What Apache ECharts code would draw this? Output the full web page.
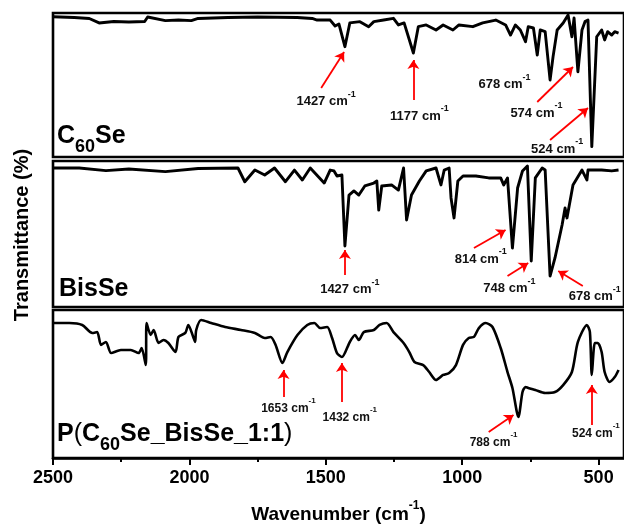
<!DOCTYPE html>
<html>
<head>
<meta charset="utf-8">
<title>FTIR</title>
<script src="https://cdn.jsdelivr.net/npm/echarts@6/dist/echarts.min.js"></script>
<style>html,body{margin:0;padding:0;background:#fff}#chart{width:624px;height:526px}</style>
</head>
<body>
<div id="chart"></div>
<script>
// wavenumbers (cm-1) and transmittance (%)
var waveC60Se = [2500,2422,2367,2331,2277,2222,2164,2153,2088,2040,1993,1968,1859,1750,1605,1550,1532,1484,1466,1452,1430,1412,1375,1343,1324,1288,1252,1234,1213,1179,1161,1132,1096,1070,1034,1012,961,925,877,841,823,805,787,768,758,739,725,714,696,678,667,652,630,612,598,590,576,561,550,539,525,507,489,478,467,452,441,427];
var transC60Se = [97.4,96.9,96.2,93.1,94.1,93.8,94.1,97.2,94.7,95.1,94.7,96.2,96.9,97.2,96.9,96.2,95.1,95.1,91.0,92.4,76.6,93.1,94.0,90.5,94.0,95.1,96.3,91.7,93.1,72.2,90.5,91.7,88.2,91.7,88.2,91.7,90.5,93.1,95.1,91.7,84.7,91.7,88.2,80.1,90.5,89.6,70.8,88.2,87.0,53.5,69.7,88.2,93.1,98.6,83.5,96.5,59.2,88.2,94.0,95.1,7.2,83.5,88.2,81.3,87.0,84.7,87.0,86.1];

var waveBisSe = [2500,2404,2306,2222,2088,1968,1822,1797,1760,1724,1688,1648,1615,1586,1557,1506,1484,1470,1459,1441,1430,1415,1397,1379,1357,1324,1313,1306,1295,1259,1234,1215,1204,1186,1157,1132,1096,1078,1066,1048,1041,1030,1016,997,950,903,859,848,834,816,797,779,761,747,732,707,696,678,660,634,623,616,594,561,543,539,489,452,427];
var transBisSe = [95.2,95.2,93.4,94.5,92.7,94.9,95.2,85.8,93.8,90.4,95.2,85.8,93.8,87.0,95.2,84.9,93.8,93.2,89.7,90.4,41.8,76.7,79.5,76.7,82.9,84.9,86.3,66.4,82.9,83.6,80.1,95.2,59.6,76.7,86.3,93.2,95.2,83.6,93.8,95.2,74.7,61.0,86.3,89.7,89.7,88.4,88.4,83.6,88.4,40.4,81.5,93.2,96.6,31.5,88.4,95.2,93.8,21.2,33.6,56.2,67.8,61.0,83.6,93.8,87.0,93.8,93.8,93.2,93.8];

var wavePoly = [2500,2440,2393,2356,2338,2324,2306,2287,2251,2215,2186,2175,2160,2157,2142,2131,2113,2095,2077,2051,2040,2015,2004,1986,1979,1975,1957,1920,1869,1811,1760,1724,1702,1684,1659,1641,1604,1568,1542,1521,1495,1477,1459,1441,1412,1393,1379,1361,1324,1303,1277,1252,1215,1194,1175,1143,1121,1096,1070,1048,1023,997,976,957,939,914,889,859,834,816,794,779,768,758,732,696,660,630,598,576,543,532,525,514,503,489,478,460,441,427];
var transPoly = [91.2,91.2,89.9,84.5,85.1,76.4,78.4,70.9,73.0,73.0,70.9,74.3,62.8,91.2,83.1,86.5,77.7,79.7,77.7,71.6,81.8,84.5,89.9,81.8,78.4,86.5,93.2,91.2,88.5,86.5,84.5,81.1,81.8,76.4,64.2,71.6,83.1,89.9,91.2,87.8,88.5,81.1,70.9,68.2,78.4,83.1,79.7,85.1,86.5,89.9,91.2,85.1,77.7,71.6,64.9,62.8,58.1,52.7,56.1,57.4,62.8,76.4,81.1,81.8,87.8,91.2,88.5,74.3,58.1,47.3,27.7,44.6,48.0,47.3,45.9,43.9,44.6,49.3,58.1,78.4,89.9,85.1,56.1,77.7,77.7,71.6,58.1,51.4,54.7,59.5];

// peak labels: text, label position [wave, T], arrow [fromWave, fromT, toWave, toT]
var peakTextC60Se = ['1427', '1177', '678', '574', '524'];
var peakPosC60Se = [[1499, 40.6], [1157, 30.2], [845, 52.4], [728, 32.3], [652, 7.3]];
var arrowsC60Se = [[1517, 47.9, 1433, 72.9], [1179, 39.6, 1179, 67.4], [725, 38.2, 594, 62.5], [678, 11.8, 539, 34.0]];

var peakTextBisSe = ['1427', '814', '748', '678'];
var peakPosBisSe = [[1412, 14.0], [932, 34.6], [827, 14.7], [514, 9.2]];
var arrowsBisSe = [[1430, 21.9, 1430, 39.0], [957, 40.4, 841, 52.7], [834, 21.2, 758, 30.1], [558, 14.4, 648, 24.7]];

var peakTextPoly = ['1653', '1432', '788', '524'];
var peakPosPoly = [[1637, 35.1], [1412, 29.1], [885, 12.2], [510, 18.2]];
var arrowsPoly = [[1655, 41.2, 1655, 59.5], [1441, 37.8, 1441, 64.2], [903, 17.6, 812, 29.1], [525, 22.3, 525, 49.3]];

var majorTicks = [2500, 2000, 1500, 1000, 500];
var minorTicks = [2250, 1750, 1250, 750];

var FONT = 'Arial, "Liberation Sans", sans-serif';
var xMin = 407, xMax = 2500;
var panelTop = [13, 161, 310];
var panelHeight = [144, 146, 148];

function zip(a, b) {
    return a.map(function (v, i) { return [v, b[i]]; });
}

var panels = [
    { wave: waveC60Se, trans: transC60Se, text: peakTextC60Se, pos: peakPosC60Se, arrows: arrowsC60Se, fs: 13, smooth: false },
    { wave: waveBisSe, trans: transBisSe, text: peakTextBisSe, pos: peakPosBisSe, arrows: arrowsBisSe, fs: 13, smooth: false },
    { wave: wavePoly, trans: transPoly, text: peakTextPoly, pos: peakPosPoly, arrows: arrowsPoly, fs: 12, smooth: 0.25 }
];

var grids = [], xAxes = [], yAxes = [], series = [];
panels.forEach(function (p, i) {
    grids.push({ left: 53, width: 576, top: panelTop[i], height: panelHeight[i], show: true,
        borderColor: '#000', borderWidth: 2.6, backgroundColor: 'transparent' });
    var last = i === 2;
    xAxes.push({
        type: 'value', gridIndex: i, min: xMin, max: xMax, inverse: true,
        show: true,
        axisLine: { show: last, lineStyle: { color: '#000', width: 2.6 } },
        axisTick: { show: last, inside: false, length: 7, customValues: majorTicks, lineStyle: { color: '#000', width: 2 } },
        axisLabel: { show: last, customValues: majorTicks, margin: 11, color: '#000', fontSize: 18, fontWeight: 'bold', fontFamily: FONT,
            formatter: function (v) { return String(v); } },
        splitLine: { show: false },
        name: last ? '{a|Wavenumber (cm}{s|-1}{a|)}' : '',
        nameLocation: 'middle', nameGap: 42,
        nameTextStyle: {
            rich: {
                a: { fontSize: 19, fontWeight: 'bold', fontFamily: FONT, color: '#000', lineHeight: 24, verticalAlign: 'bottom' },
                s: { fontSize: 12, fontWeight: 'bold', fontFamily: FONT, color: '#000', lineHeight: 24, verticalAlign: 'top' }
            }
        }
    });
    yAxes.push({ type: 'value', gridIndex: i, min: 0, max: 100, show: false });

    series.push({
        type: 'line', xAxisIndex: i, yAxisIndex: i, data: zip(p.wave, p.trans),
        symbol: 'none', silent: true, z: 3, smooth: p.smooth,
        lineStyle: { color: '#000', width: i === 2 ? 2.6 : 2.9, join: 'round' },
        markLine: {
            silent: true, symbol: ['none', 'arrow'], symbolSize: 9,
            lineStyle: { color: '#ff0000', width: 1.8, type: 'solid' },
            itemStyle: { color: '#ff0000' },
            label: { show: false },
            emphasis: { disabled: true },
            data: p.arrows.map(function (a) {
                return [{ coord: [a[0], a[1]] }, { coord: [a[2], a[3]] }];
            })
        }
    });
    series.push({
        type: 'scatter', xAxisIndex: i, yAxisIndex: i, symbolSize: 0, silent: true, z: 4,
        itemStyle: { color: '#000', opacity: 1 },
        emphasis: { disabled: true },
        data: p.text.map(function (t, k) { return { name: t, value: p.pos[k] }; }),
        label: {
            show: true, position: 'inside', formatter: '{a|{b} cm}{s|-1}', color: '#111', opacity: 1,
            rich: {
                a: { fontSize: p.fs, fontWeight: 'bold', fontFamily: FONT, color: '#111', lineHeight: 18, verticalAlign: 'bottom' },
                s: { fontSize: p.fs - 4, fontWeight: 'bold', fontFamily: FONT, color: '#111', lineHeight: 18, verticalAlign: 'top' }
            }
        }
    });
});

// overlay grid for the minor ticks of the bottom axis
grids.push({ left: 53, width: 576, top: panelTop[2], height: panelHeight[2], show: false });
xAxes.push({
    type: 'value', gridIndex: 3, min: xMin, max: xMax, inverse: true,
    axisLine: { show: false },
    axisTick: { show: true, inside: false, length: 4, customValues: minorTicks, lineStyle: { color: '#000', width: 2 } },
    axisLabel: { show: false }, splitLine: { show: false }
});
yAxes.push({ type: 'value', gridIndex: 3, min: 0, max: 100, show: false });

var nameRich = {
    a: { fontSize: 25, fontWeight: 'bold', fontFamily: FONT, fill: '#000', lineHeight: 32, verticalAlign: 'top' },
    b: { fontSize: 18, fontWeight: 'bold', fontFamily: FONT, fill: '#000', lineHeight: 32, verticalAlign: 'bottom' },
    p: { fontSize: 25, fontWeight: 'normal', fontFamily: FONT, fill: '#000', lineHeight: 32, verticalAlign: 'top' }
};

var option = {
    animation: false,
    backgroundColor: '#fff',
    grid: grids,
    xAxis: xAxes,
    yAxis: yAxes,
    series: series,
    graphic: [
        { type: 'text', left: 57, top: 124, z: 10, style: { text: '{a|C}{b|60}{a|Se}', rich: nameRich } },
        { type: 'text', left: 59, top: 277, z: 10, style: { text: '{a|BisSe}', rich: nameRich } },
        { type: 'text', left: 57, top: 422, z: 10, style: { text: '{a|P}{p|(}{a|C}{b|60}{a|Se_BisSe_1:1}{p|)}', rich: nameRich } },
        { type: 'text', x: 22, y: 235, rotation: Math.PI / 2, z: 10,
          style: { text: 'Transmittance (%)', font: 'bold 20px ' + FONT, fill: '#000', align: 'center', verticalAlign: 'middle' } }
    ]
};

var chart = echarts.init(document.getElementById('chart'));
chart.setOption(option);
</script>
</body>
</html>
